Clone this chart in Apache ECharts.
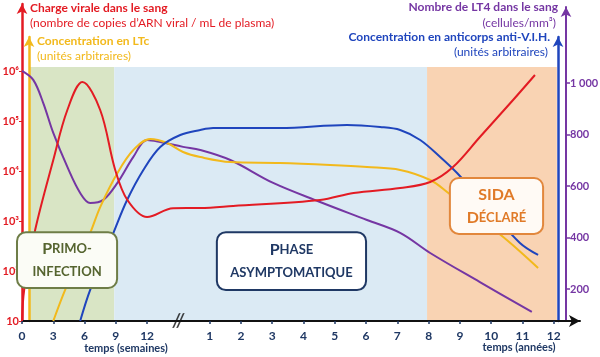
<!DOCTYPE html>
<html lang="fr">
<head>
<meta charset="UTF-8">
<title>VIH</title>
<script src="https://cdn.jsdelivr.net/npm/echarts@6/dist/echarts.min.js"></script>
</head>
<body style="margin:0">
<div id="chart" style="width:600px;height:357px"></div>
<script>
    // position on the time axis: weeks/3 for 0-12 semaines, 5 + years for 1-12 années
    var tickPos = [0, 1, 2, 3, 4, 6, 7, 8, 9, 10, 11, 12, 13, 14, 15, 16, 17];
    var tickLabels = ['0', '3', '6', '9', '12', '1', '2', '3', '4', '5', '6', '7', '8', '9', '10', '11', '12'];
    var breakMark = [[5, 10]];

    var logTicks = [10, 100, 1000, 10000, 100000, 1000000];
    var logLabels = ['10', '10²', '10³', '10⁴', '10⁵', '10⁶'];
    var lt4Ticks = [200, 400, 600, 800, 1000];
    var lt4Labels = ['200', '400', '600', '800', '1 000'];

    // [position, copies/mL]
    var chargeVirale = [[0, 10], [0.07, 42], [0.42, 660], [1.0, 16600], [1.45, 166000], [1.93, 600000],
        [2.5, 166000], [2.98, 10500], [3.37, 2630], [4.0, 1200], [4.83, 1800], [5.7, 1820], [6.75, 2000],
        [9.53, 2630], [10.6, 3630], [12.09, 4570], [13.05, 6030], [13.78, 12000], [14.64, 47900],
        [15.7, 263000], [16.4, 832000]];
    // LTc, unités arbitraires (sur l'échelle de gauche)
    var ltc = [[1.0, 10], [1.38, 42], [2.18, 575], [2.5, 1900], [3.05, 9100], [3.56, 26300], [4.1, 43600],
        [4.64, 36300], [5.15, 24000], [5.7, 19000], [6.66, 15100], [8.25, 14500], [9.85, 13200],
        [11.03, 12000], [12.09, 10500], [13.05, 6600], [13.59, 3800], [14.48, 1320], [15.5, 417], [16.5, 115]];
    // anticorps anti-VIH, unités arbitraires
    var anticorps = [[1.86, 10], [2.18, 42], [2.92, 575], [3.36, 2630], [3.88, 10500], [4.42, 30200],
        [5.06, 52500], [5.7, 66100], [6.11, 72400], [8.25, 72400], [10.39, 83200], [11.45, 75900],
        [12.09, 66100], [12.73, 41700], [13.37, 19100], [13.91, 9100], [14.96, 1660], [15.92, 363], [16.5, 209]];
    // LT4, cellules/mm3
    var lt4 = [[0, 1047], [0.36, 1012], [0.68, 922], [1.0, 806], [1.45, 674], [1.86, 573], [2.18, 534],
        [2.6, 546], [3.05, 612], [3.56, 713], [4.0, 779], [4.42, 771], [5.15, 752], [5.7, 740], [6.66, 701],
        [8.03, 612], [9.53, 538], [11.03, 468], [12.09, 418], [13.05, 340], [14.64, 227], [16.3, 111]];

    // phases: [start, end, colour index]
    var phases = [[0.25, 2.95, 0], [2.95, 12.95, 1], [12.95, 17.1, 2]];
    var phaseColors = ['#d9e5c5', '#dbeaf4', '#f9d3b3'];

    // phase labels: [x0, x1, y0, y1 (LT4 scale), style index]
    var phaseBoxes = [[-0.16, 3.04, 204, 421, 0], [6.23, 11.0, 196, 421, 1], [13.68, 16.66, 414, 631, 2]];
    var boxTexts = [['{b|P}{s|RIMO-}', '{s|INFECTION}'], ['{b|P}{s|HASE}', '{s|ASYMPTOMATIQUE}'], ['{b|SIDA}', '{b|D}{s|ÉCLARÉ}']];
    var boxStroke = ['#6e7d47', '#1f3864', '#e2873c'];
    var boxFill = ['#fbfcf6', '#ffffff', '#fffaf5'];
    var boxColor = ['#55642f', '#1f3864', '#e07a28'];

    var red = '#e31b23', yellow = '#f2b91c', blue = '#1f45bd', purple = '#7536a3', navy = '#1f3864';
    var font = 'Lato';

    var myChart = echarts.init(document.getElementById('chart'));

    function decoGrid(left, top) {
        return {left: left, width: 1, top: top, bottom: 36, outerBoundsMode: 'none'};
    }
    function decoX(i) {
        return {gridIndex: i, type: 'value', show: false};
    }
    function decoY(i, color, w) {
        return {
            gridIndex: i, type: 'value',
            axisLine: {show: true, symbol: ['none', 'arrow'], symbolSize: [8, 10], lineStyle: {color: color, width: w}},
            axisTick: {show: false}, axisLabel: {show: false}, splitLine: {show: false}
        };
    }
    function txt(x, y, text, color, bold, align, size) {
        return {
            type: 'text', x: x, y: y, z: 50,
            style: {text: text, fill: color, font: (bold ? 'bold ' : '') + (size || 12) + 'px ' + font,
                align: align || 'left', verticalAlign: 'middle'}
        };
    }
    function boxText(x, y, text, color) {
        return {
            type: 'text', x: x, y: y,
            style: {
                text: text, align: 'center', verticalAlign: 'middle', fill: color,
                font: 'bold 13px ' + font,
                rich: {
                    b: {fontSize: 16, fontWeight: 'bold', fontFamily: font, fill: color},
                    s: {fontSize: 13, fontWeight: 'bold', fontFamily: font, fill: color}
                }
            }
        };
    }

    var option = {
        backgroundColor: '#fff',
        animation: false,
        textStyle: {fontFamily: font},
        grid: [
            {left: 22, right: 20, top: 67, bottom: 36, outerBoundsMode: 'none'},
            decoGrid(22, 4),
            decoGrid(29, 37),
            decoGrid(558, 37),
            decoGrid(566, 7)
        ],
        xAxis: [{
            gridIndex: 0, type: 'value', min: 0, max: 17.84,
            axisLine: {show: true, symbol: ['none', 'arrow'], symbolSize: [9, 11], lineStyle: {color: '#111', width: 2}},
            axisTick: {show: true, length: 3, customValues: tickPos, lineStyle: {color: navy, width: 1.5}},
            axisLabel: {
                customValues: tickPos, margin: 9, color: navy, fontWeight: 'bold', fontSize: 12,
                formatter: function (v) { return tickLabels[tickPos.indexOf(v)]; }
            },
            splitLine: {show: false}
        }, decoX(1), decoX(2), decoX(3), decoX(4)],
        yAxis: [{
            gridIndex: 0, type: 'log', logBase: 10, min: 10, max: 1202264,
            axisLine: {show: false},
            axisTick: {show: true, length: 3, customValues: logTicks, lineStyle: {color: red}},
            axisLabel: {
                customValues: logTicks, margin: 3, color: red, fontWeight: 'bold', fontSize: 11,
                formatter: function (v) { return logLabels[logTicks.indexOf(v)]; }
            },
            splitLine: {show: false}
        }, {
            gridIndex: 0, type: 'value', position: 'right', offset: -14, min: 76, max: 1062,
            axisLine: {show: false},
            axisTick: {show: true, length: 4, customValues: lt4Ticks, lineStyle: {color: purple, width: 1.5}},
            axisLabel: {
                customValues: lt4Ticks, margin: 4, color: purple, fontWeight: 'bold', fontSize: 11,
                formatter: function (v) { return lt4Labels[lt4Ticks.indexOf(v)]; }
            },
            splitLine: {show: false}
        },
            decoY(1, red, 2.5),
            decoY(2, yellow, 2.5),
            decoY(3, blue, 2.5),
            decoY(4, purple, 2)
        ],
        series: [{
            name: 'phases', type: 'custom', xAxisIndex: 0, yAxisIndex: 1, z: 0, silent: true,
            data: phases,
            encode: {x: [0, 1]},
            renderItem: function (params, api) {
                var cs = params.coordSys;
                var x0 = api.coord([api.value(0), 500])[0];
                var x1 = api.coord([api.value(1), 500])[0];
                return {
                    type: 'rect',
                    shape: {x: x0, y: cs.y, width: x1 - x0, height: cs.height},
                    style: {fill: phaseColors[api.value(2)]}
                };
            }
        }, {
            name: 'LT4', type: 'line', xAxisIndex: 0, yAxisIndex: 1, data: lt4,
            smooth: 0.35, showSymbol: false, lineStyle: {color: purple, width: 2}, z: 3
        }, {
            name: 'LTc', type: 'line', xAxisIndex: 0, yAxisIndex: 0, data: ltc,
            smooth: 0.35, showSymbol: false, lineStyle: {color: yellow, width: 2}, z: 3
        }, {
            name: 'Anticorps', type: 'line', xAxisIndex: 0, yAxisIndex: 0, data: anticorps,
            smooth: 0.35, showSymbol: false, lineStyle: {color: blue, width: 2}, z: 3
        }, {
            name: 'Charge virale', type: 'line', xAxisIndex: 0, yAxisIndex: 0, data: chargeVirale,
            smooth: 0.35, showSymbol: false, lineStyle: {color: red, width: 2}, z: 3
        }, {
            name: 'coupure', type: 'scatter', xAxisIndex: 0, yAxisIndex: 0, data: breakMark,
            symbolSize: 2, itemStyle: {color: 'rgba(0,0,0,0)'}, z: 5,
            label: {show: true, position: 'inside', formatter: '//', color: '#111',
                fontSize: 18, fontWeight: 'bold', fontStyle: 'italic'}
        }, {
            name: 'encadrés', type: 'custom', xAxisIndex: 0, yAxisIndex: 1, z: 10, silent: true, clip: false,
            data: phaseBoxes,
            encode: {x: [0, 1], y: [2, 3]},
            renderItem: function (params, api) {
                var k = api.value(4);
                var p0 = api.coord([api.value(0), api.value(3)]);
                var p1 = api.coord([api.value(1), api.value(2)]);
                var cx = (p0[0] + p1[0]) / 2, cy = (p0[1] + p1[1]) / 2;
                return {
                    type: 'group',
                    children: [{
                        type: 'rect',
                        shape: {x: p0[0], y: p0[1], width: p1[0] - p0[0], height: p1[1] - p0[1], r: 9},
                        style: {fill: boxFill[k], stroke: boxStroke[k], lineWidth: 2}
                    }, boxText(cx, cy - 11, boxTexts[k][0], boxColor[k]),
                        boxText(cx, cy + 12, boxTexts[k][1], boxColor[k])]
                };
            }
        }],
        graphic: [
            txt(30, 8, 'Charge virale dans le sang', red, true),
            txt(30, 23, '(nombre de copies d’ARN viral / mL de plasma)', red, false),
            txt(37, 41, 'Concentration en LTc', yellow, true),
            txt(37, 56, '(unités arbitraires)', yellow, false),
            txt(558, 7, 'Nombre de LT4 dans le sang', purple, true, 'right'),
            txt(556, 23, '(cellules/mm³)', purple, false, 'right'),
            txt(550, 37, 'Concentration en anticorps anti-V.I.H.', blue, true, 'right'),
            txt(548, 52, '(unités arbitraires)', blue, false, 'right'),
            txt(126, 348, 'temps (semaines)', navy, true, 'center', 11),
            txt(519, 347, 'temps (années)', navy, true, 'center', 11)
        ]
    };

    myChart.setOption(option);
</script>
</body>
</html>
